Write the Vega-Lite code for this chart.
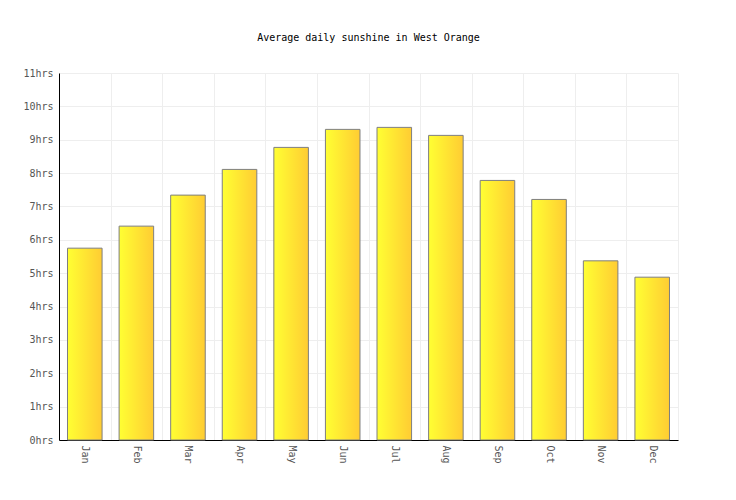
{
  "$schema": "https://vega.github.io/schema/vega-lite/v6.json",
  "width": 619,
  "height": 367,
  "autosize": {"type": "none"},
  "padding": {"left": 59, "top": 73, "right": 58, "bottom": 60},
  "background": "white",
  "title": {
    "text": "Average daily sunshine in West Orange",
    "font": "DejaVu Sans Mono",
    "fontSize": 10,
    "fontWeight": "normal",
    "color": "black",
    "anchor": "middle",
    "offset": 25
  },
  "data": {
    "values": [
      {"month": "Jan", "hours": 5.75},
      {"month": "Feb", "hours": 6.41},
      {"month": "Mar", "hours": 7.34},
      {"month": "Apr", "hours": 8.11},
      {"month": "May", "hours": 8.77},
      {"month": "Jun", "hours": 9.31},
      {"month": "Jul", "hours": 9.37},
      {"month": "Aug", "hours": 9.13},
      {"month": "Sep", "hours": 7.78},
      {"month": "Oct", "hours": 7.21},
      {"month": "Nov", "hours": 5.37},
      {"month": "Dec", "hours": 4.88}
    ]
  },
  "mark": {
    "type": "bar",
    "width": {"band": 0.67},
    "stroke": "#7f7f7f",
    "strokeWidth": 1,
    "fill": {
      "gradient": "linear",
      "x1": 0, "y1": 0, "x2": 1, "y2": 0,
      "stops": [
        {"offset": 0, "color": "#ffff33"},
        {"offset": 1, "color": "#ffcc33"}
      ]
    }
  },
  "encoding": {
    "x": {
      "field": "month",
      "type": "nominal",
      "sort": null,
      "title": null,
      "scale": {"paddingInner": 0, "paddingOuter": 0},
      "axis": {
        "labelAngle": 90,
        "labelAlign": "left",
        "labelBaseline": "middle",
        "labelFont": "DejaVu Sans Mono",
        "labelFontSize": 10,
        "labelColor": "#555555",
        "labelPadding": 5,
        "ticks": false,
        "tickBand": "extent",
        "grid": true,
        "gridColor": "#eeeeee",
        "domainColor": "black",
        "domainWidth": 1
      }
    },
    "y": {
      "field": "hours",
      "type": "quantitative",
      "title": null,
      "scale": {"domain": [0, 11], "nice": false},
      "axis": {
        "values": [0, 1, 2, 3, 4, 5, 6, 7, 8, 9, 10, 11],
        "labelExpr": "datum.value + 'hrs'",
        "labelFont": "DejaVu Sans Mono",
        "labelFontSize": 10,
        "labelColor": "#555555",
        "labelPadding": 6,
        "ticks": false,
        "grid": true,
        "gridColor": "#eeeeee",
        "domainColor": "black",
        "domainWidth": 1
      }
    }
  },
  "config": {
    "view": {"stroke": null}
  }
}
